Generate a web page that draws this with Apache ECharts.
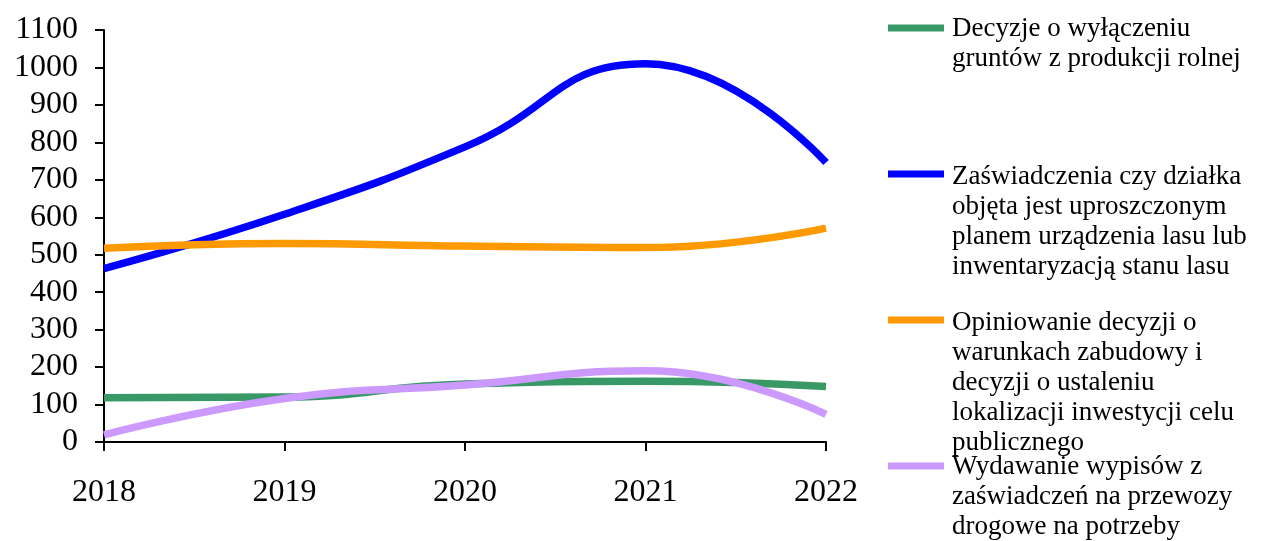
<!DOCTYPE html>
<html>
<head>
<meta charset="utf-8">
<script src="https://cdn.jsdelivr.net/npm/echarts@6/dist/echarts.min.js"></script>
<style>html,body{margin:0;padding:0;background:#fff}#c{width:1264px;height:541px}</style>
</head>
<body>
<div id="c"></div>
<script>
var years = ['2018', '2019', '2020', '2021', '2022'];
var decyzje = [118, 120, 155, 162, 148];
var zaswiadczenia = [463, 608, 788, 1010, 746];
var opiniowanie = [517, 530, 523, 519, 571];
var wypisy = [19, 116, 152, 190, 74];
var yTicks = [0, 100, 200, 300, 400, 500, 600, 700, 800, 900, 1000, 1100];
var names = [
  'Decyzje o wyłączeniu\ngruntów z produkcji rolnej',
  'Zaświadczenia czy działka\nobjęta jest uproszczonym\nplanem urządzenia lasu lub\ninwentaryzacją stanu lasu',
  'Opiniowanie decyzji o\nwarunkach zabudowy i\ndecyzji o ustaleniu\nlokalizacji inwestycji celu\npublicznego',
  'Wydawanie wypisów z\nzaświadczeń na przewozy\ndrogowe na potrzeby'
];
var colors = ['#389966', '#0000FF', '#FF9900', '#CC99FF'];
var seriesData = [decyzje, zaswiadczenia, opiniowanie, wypisy];

var FONT = 'Liberation Serif';
var chart = echarts.init(document.getElementById('c'));
var iconY = [28, 174, 320, 466];
var textY = [14, 162, 308, 452];
var graphics = [];
names.forEach(function (n, i) {
  graphics.push({ type: 'rect', left: 888, top: iconY[i] - 3.5, shape: { width: 56, height: 7 }, style: { fill: colors[i] } });
  graphics.push({ type: 'text', left: 952, top: textY[i], style: { text: n, fill: '#000', font: '27px "' + FONT + '"', lineHeight: 30 } });
});

chart.setOption({
  animation: false,
  grid: { left: 104, right: 438, top: 30, bottom: 99 },
  xAxis: {
    type: 'category', data: years, boundaryGap: false,
    axisLine: { lineStyle: { color: '#000', width: 2 } },
    axisTick: { show: true, length: 9, lineStyle: { color: '#000', width: 2 } },
    axisLabel: { color: '#000', fontFamily: FONT, fontSize: 32, margin: 35 }
  },
  yAxis: {
    type: 'value', min: 0, max: 1100, interval: 100,
    axisLine: { show: true, lineStyle: { color: '#000', width: 2 } },
    axisTick: { show: true, length: 9, lineStyle: { color: '#000', width: 2 } },
    splitLine: { show: false },
    axisLabel: { color: '#000', fontFamily: FONT, fontSize: 32, margin: 26,
      formatter: function (v) { return yTicks.indexOf(v) >= 0 ? String(v) : ''; } }
  },
  graphic: graphics,
  series: seriesData.map(function (d, i) {
    return { type: 'line', name: names[i], data: d, smooth: 0.5, showSymbol: false,
      lineStyle: { color: colors[i], width: 7.5 }, itemStyle: { color: colors[i] } };
  })
});
</script>
</body>
</html>
